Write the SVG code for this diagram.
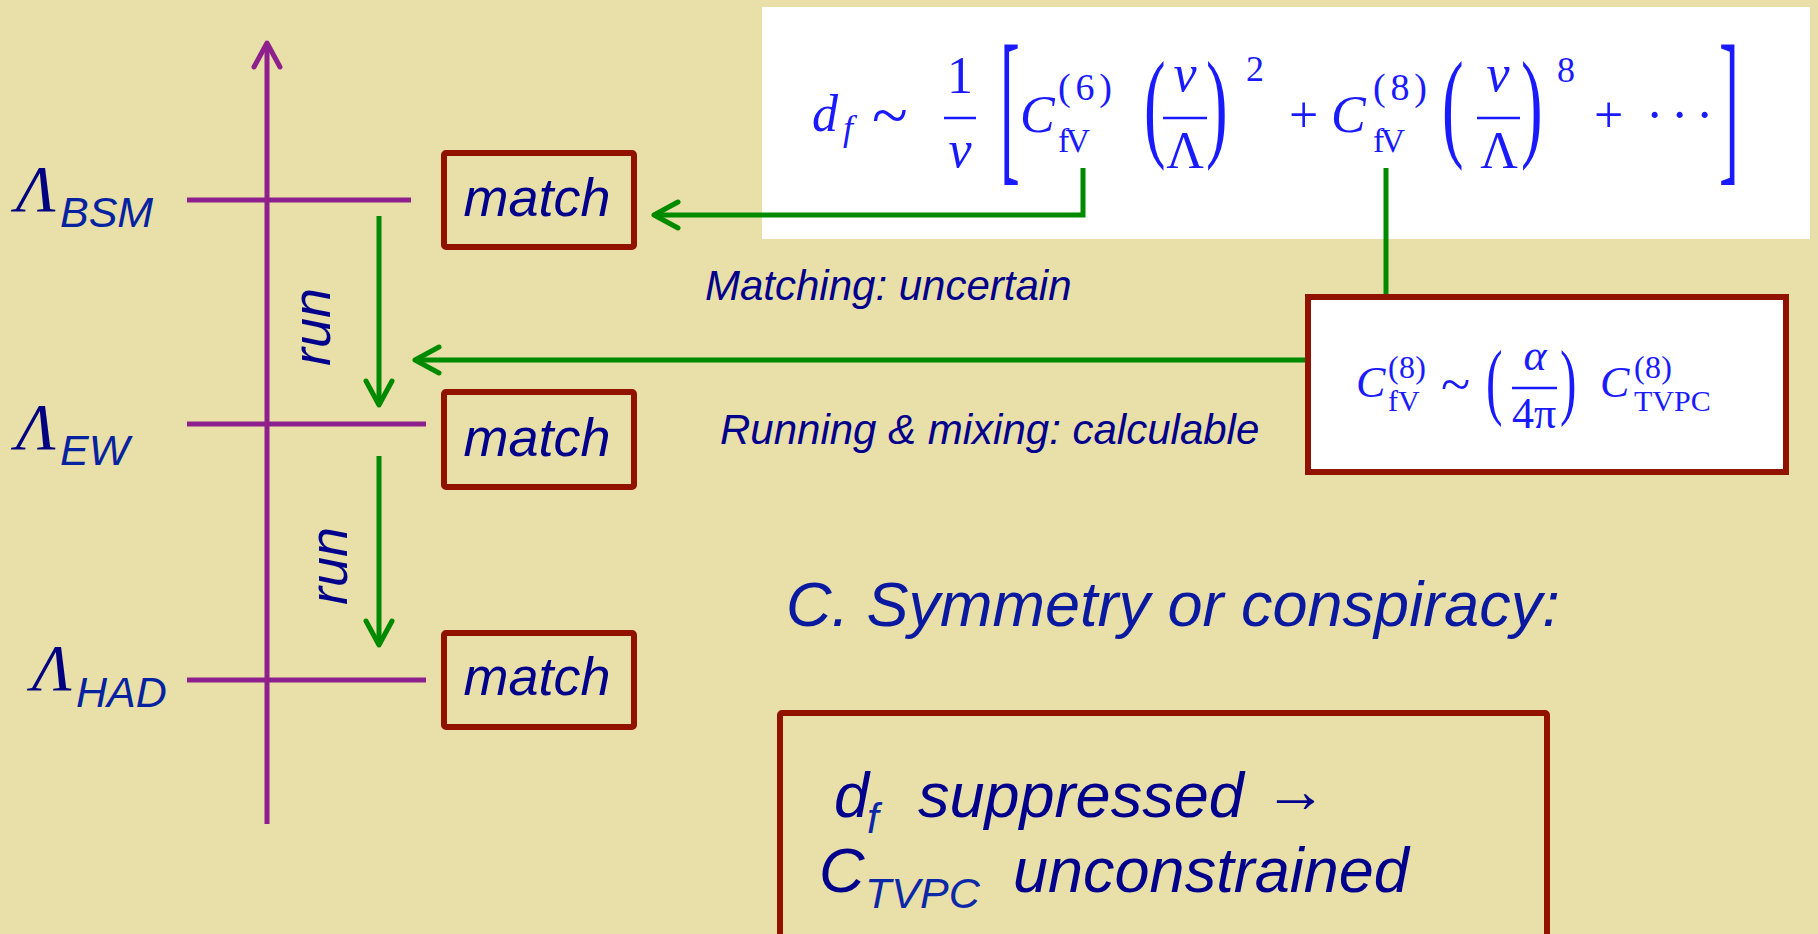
<svg xmlns="http://www.w3.org/2000/svg" width="1818" height="934" viewBox="0 0 1818 934">
<style>
.bg{fill:#E9DFA8}
.mbox{fill:none;stroke:#921200;stroke-width:6}
.wbox{fill:#FFFFFF;stroke:#921200;stroke-width:6}
.purp{stroke:#8E208E;stroke-width:5;fill:none}
.grn{stroke:#008A00;stroke-width:5;fill:none}
.sans{font-family:"Liberation Sans",Arial,sans-serif;font-style:italic}
.navy{fill:#00008C}
.blu{fill:#0A28A8}
.lam{font-family:"Liberation Serif","Times New Roman",serif;font-style:italic;fill:#000080;font-size:66px}
.sub{font-family:"Liberation Sans",Arial,sans-serif;font-style:italic;fill:#0523A0;font-size:43px}
.m{font-family:"Liberation Serif","Times New Roman",serif;fill:#1A1AFF}
.mi{font-style:italic}
.bar{stroke:#1A1AFF;stroke-width:2.5}
</style>
<defs>
<marker id="aG" markerUnits="userSpaceOnUse" markerWidth="60" markerHeight="60" viewBox="-30 -30 60 60" refX="0" refY="0" orient="auto">
<path d="M-24,-13 L0,0 L-24,13" fill="none" stroke="#008A00" stroke-width="5" stroke-linecap="round" stroke-linejoin="round"/>
</marker>
<marker id="aP" markerUnits="userSpaceOnUse" markerWidth="60" markerHeight="60" viewBox="-30 -30 60 60" refX="0" refY="0" orient="auto">
<path d="M-24,-13 L0,0 L-24,13" fill="none" stroke="#8E208E" stroke-width="5" stroke-linecap="round" stroke-linejoin="round"/>
</marker>
</defs>
<rect class="bg" x="0" y="0" width="1818" height="934"/>

<g id="formula-main">
<rect x="762" y="7" width="1048" height="232" fill="#FFFFFF"/>
<text class="m mi" x="812" y="131" font-size="52">d</text>
<text class="m mi" x="843" y="140" font-size="36">f</text>
<text class="m" x="872" y="137" font-size="66">~</text>
<text class="m" x="960" y="93" font-size="52" text-anchor="middle">1</text>
<line class="bar" x1="944" y1="118" x2="976" y2="118"/>
<text class="m mi" x="960" y="167" font-size="52" text-anchor="middle">v</text>
<text class="m" transform="translate(1000,162) scale(0.353,1)" font-size="169">[</text>
<text class="m mi" x="1020" y="132" font-size="52">C</text>
<text class="m" x="1058" y="100" font-size="38" textLength="54">(6)</text>
<text class="m" x="1058" y="152" font-size="34" textLength="32">fV</text>
<text class="m" transform="translate(1144,145) scale(0.54,1)" font-size="120">(</text>
<text class="m mi" x="1185" y="91" font-size="52" text-anchor="middle">v</text>
<line class="bar" x1="1163" y1="118" x2="1207" y2="118"/>
<text class="m" x="1185" y="168" font-size="52" text-anchor="middle">Λ</text>
<text class="m" transform="translate(1206,145) scale(0.54,1)" font-size="120">)</text>
<text class="m" x="1246" y="81" font-size="36">2</text>
<text class="m" x="1289" y="132" font-size="52">+</text>
<text class="m mi" x="1331" y="132" font-size="52">C</text>
<text class="m" x="1373" y="100" font-size="38" textLength="54">(8)</text>
<text class="m" x="1373" y="152" font-size="34" textLength="32">fV</text>
<text class="m" transform="translate(1442,145) scale(0.54,1)" font-size="120">(</text>
<text class="m mi" x="1498" y="91" font-size="52" text-anchor="middle">v</text>
<line class="bar" x1="1477" y1="118" x2="1520" y2="118"/>
<text class="m" x="1499" y="168" font-size="52" text-anchor="middle">Λ</text>
<text class="m" transform="translate(1521,145) scale(0.54,1)" font-size="120">)</text>
<text class="m" x="1557" y="82" font-size="36">8</text>
<text class="m" x="1594" y="132" font-size="52">+</text>
<text class="m" x="1646 1671 1696" y="132" font-size="52">···</text>
<text class="m" transform="translate(1719,162) scale(0.353,1)" font-size="169">]</text>
</g>

<g id="formula-mixing">
<rect class="wbox" x="1308" y="297" width="478" height="175"/>
<text class="m mi" x="1356" y="397" font-size="44">C</text>
<text class="m" x="1388" y="378" font-size="32" textLength="38">(8)</text>
<text class="m" x="1388" y="411" font-size="30">fV</text>
<text class="m" x="1441" y="403" font-size="54">~</text>
<text class="m" transform="translate(1486,409) scale(0.59,1)" font-size="84">(</text>
<text class="m mi" x="1535" y="370" font-size="44" text-anchor="middle">α</text>
<line class="bar" x1="1512" y1="388" x2="1557" y2="388"/>
<text class="m" x="1534" y="428" font-size="44" text-anchor="middle">4π</text>
<text class="m" transform="translate(1560,409) scale(0.59,1)" font-size="84">)</text>
<text class="m mi" x="1600" y="397" font-size="44">C</text>
<text class="m" x="1634" y="378" font-size="32" textLength="38">(8)</text>
<text class="m" x="1634" y="411" font-size="30">TVPC</text>
</g>

<g id="axis">
<path class="purp" d="M267,824 V43" marker-end="url(#aP)"/>
<path class="purp" d="M187,200 H411"/>
<path class="purp" d="M187,424 H426"/>
<path class="purp" d="M187,680 H426"/>
</g>

<g id="label-bsm">
<text class="lam" x="16" y="211">Λ</text>
<text class="sub" x="60" y="227">BSM</text>
</g>
<g id="label-ew">
<text class="lam" x="16" y="449">Λ</text>
<text class="sub" x="60" y="465">EW</text>
</g>
<g id="label-had">
<text class="lam" x="32" y="690">Λ</text>
<text class="sub" x="76" y="707">HAD</text>
</g>

<g id="match-bsm">
<rect class="mbox" x="444" y="153" width="190" height="94" rx="2"/>
<text class="sans navy" x="537" y="216" font-size="54" text-anchor="middle">match</text>
</g>
<g id="match-ew">
<rect class="mbox" x="444" y="392" width="190" height="95" rx="2"/>
<text class="sans navy" x="537" y="456" font-size="54" text-anchor="middle">match</text>
</g>
<g id="match-had">
<rect class="mbox" x="444" y="633" width="190" height="94" rx="2"/>
<text class="sans navy" x="537" y="695" font-size="54" text-anchor="middle">match</text>
</g>

<g id="connectors">
<path class="grn" d="M379,216 V405" marker-end="url(#aG)"/>
<path class="grn" d="M379,456 V645" marker-end="url(#aG)"/>
<path class="grn" d="M1083,168 V215 H654" marker-end="url(#aG)"/>
<path class="grn" d="M1305,360 H415" marker-end="url(#aG)"/>
<path class="grn" d="M1386,168 V294"/>
</g>

<g id="run-labels">
<text class="sans navy" transform="translate(330,327) rotate(-90)" font-size="54" text-anchor="middle">run</text>
<text class="sans navy" transform="translate(347,566) rotate(-90)" font-size="54" text-anchor="middle">run</text>
</g>

<g id="edge-labels">
<text class="sans navy" x="705" y="300" font-size="42">Matching: uncertain</text>
<text class="sans navy" x="720" y="444" font-size="42">Running &amp; mixing: calculable</text>
</g>

<g id="heading">
<text class="sans" x="786" y="626" font-size="63" fill="#0A1AA0">C. Symmetry or conspiracy:</text>
</g>

<g id="conclusion">
<rect class="mbox" x="780" y="713" width="767" height="260" rx="2"/>
<text class="sans navy" x="834" y="817" font-size="63">d</text>
<text class="sans blu" x="867" y="833" font-size="42">f</text>
<text class="sans navy" x="918" y="817" font-size="63">suppressed</text>
<text x="1264" y="812" font-size="63" font-family="'Liberation Serif','Times New Roman',serif" fill="#00008C">→</text>
<text class="sans navy" x="819" y="892" font-size="63">C</text>
<text class="sans blu" x="865" y="908" font-size="43">TVPC</text>
<text class="sans navy" x="1013" y="892" font-size="63">unconstrained</text>
</g>
</svg>
